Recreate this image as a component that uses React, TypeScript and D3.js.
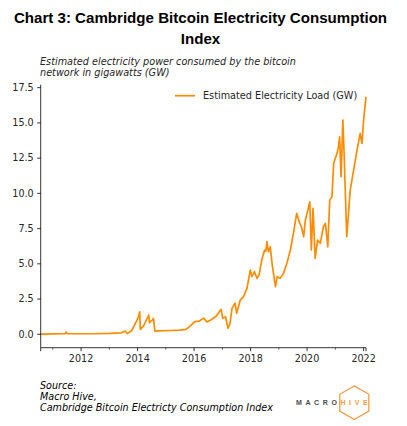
import React from "react";
import * as d3 from "d3";

const dates = [
  "2010-07-28","2011-01-15","2011-06-10","2011-06-22","2011-07-05","2012-06-01","2013-01-01","2013-06-01",
  "2013-07-25","2013-08-20","2013-10-15","2013-12-05","2014-01-10","2014-01-28","2014-02-05","2014-03-20",
  "2014-05-25","2014-06-03","2014-07-10","2014-07-25","2014-08-12","2014-10-01","2015-03-01","2015-07-01",
  "2015-09-20","2015-11-15","2016-01-10","2016-03-10","2016-05-05","2016-06-15","2016-08-15","2016-10-15",
  "2016-12-15","2017-01-05","2017-02-10","2017-03-15","2017-04-10","2017-05-05","2017-06-15","2017-07-05",
  "2017-08-20","2017-10-01","2017-11-15","2017-12-28","2018-01-18","2018-02-20","2018-03-25","2018-04-20",
  "2018-05-25","2018-07-01","2018-07-18","2018-07-30","2018-08-20","2018-09-12","2018-10-05","2018-11-18","2018-12-10",
  "2019-01-18","2019-03-03","2019-04-15","2019-05-30","2019-07-08","2019-08-20","2019-09-10","2019-09-20","2019-10-20",
  "2019-11-18","2019-12-10","2020-01-01","2020-02-05","2020-02-25","2020-03-18","2020-04-15","2020-05-15",
  "2020-06-20","2020-07-30","2020-08-25","2020-09-25","2020-10-20","2020-11-18","2020-12-10","2021-01-22",
  "2021-02-10","2021-02-25","2021-03-15","2021-04-08","2021-04-25","2021-05-28","2021-07-12","2021-08-25","2021-10-08",
  "2021-11-18","2021-12-10","2022-01-05","2022-02-01",
];

const loadGW = [
  0.02,0.03,0.05,0.16,0.05,0.04,0.06,0.1,
  0.23,0.05,0.25,0.8,1.2,1.6,0.35,0.6,
  1.37,0.83,1.0,1.13,0.23,0.25,0.27,0.3,
  0.35,0.6,0.9,0.94,1.15,0.87,1.05,1.3,
  1.77,1.13,1.25,0.43,0.78,1.84,2.2,1.49,
  2.43,2.67,3.26,4.56,4.09,4.44,3.97,4.2,
  5.27,5.98,5.9,6.57,5.86,6.21,5.04,3.38,4.09,
  3.97,4.33,5.04,5.98,7.16,8.58,8.2,7.99,7.63,
  6.92,8.1,8.58,9.4,5.98,8.94,5.39,6.69,
  6.45,7.63,7.87,6.21,9.52,9.76,12.13,12.84,
  13.3,14.01,11.18,15.2,12.6,6.92,10.23,11.65,13.07,
  14.26,13.55,15.43,16.85,
];

const yTicks = [0, 2.5, 5, 7.5, 10, 12.5, 15, 17.5];
const yLimits = [-0.95, 17.71];
const majorYears = [2012, 2014, 2016, 2018, 2020, 2022];
const minorYears = [2011, 2013, 2015, 2017, 2019, 2021];

const titleLines = ["Chart 3: Cambridge Bitcoin Electricity Consumption", "Index"];
const subtitleLines = ["Estimated electricity power consumed by the bitcoin", "network in gigawatts (GW)"];
const legendLabel = "Estimated Electricity Load (GW)";
const sourceLines = ["Source:", "Macro Hive,", "Cambridge Bitcoin Electricty Consumption Index"];

const W = 407;
const H = 426;
const M = { left: 40.7, right: 366, top: 84.7, bottom: 347.7 };
const ORANGE = "#ff8c00";
const TXT = "#262626";
const FONT = "'DejaVu Sans', sans-serif";

export default function App() {
  const parse = d3.timeParse("%Y-%m-%d");
  const data = dates.map((d, i) => ({ date: parse(d) as Date, value: loadGW[i] }));

  const x = d3
    .scaleTime()
    .domain(d3.extent(data, (d) => d.date) as [Date, Date])
    .range([M.left, M.right]);
  const y = d3.scaleLinear().domain(yLimits).range([M.bottom, M.top]);

  const line = d3
    .line<{ date: Date; value: number }>()
    .x((d) => x(d.date))
    .y((d) => y(d.value));

  const yr = (v: number) => new Date(v, 0, 1);
  const fmt = d3.format(".1f");

  const hx = 354.3, hy = 402.7, hr = 16.8;
  const hex = d3.range(6).map((k) => {
    const a = (Math.PI / 3) * k - Math.PI / 2;
    return [hx + hr * Math.cos(a), hy + hr * Math.sin(a)];
  });

  return (
    <svg
      width={W}
      height={H}
      style={{ position: "absolute", left: 0, top: 0, background: "#fff" }}
    >
      <rect width={W} height={H} fill="#fff" />
      {titleLines.map((t, i) => (
        <text
          key={t}
          x={200.5}
          y={22.5 + i * 21.5}
          textAnchor="middle"
          fontFamily="'Liberation Sans', Arial, sans-serif"
          fontWeight="bold"
          fontSize={15.1}
          fill="#000"
        >
          {t}
        </text>
      ))}
      {subtitleLines.map((t, i) => (
        <text
          key={t}
          x={40}
          y={65 + i * 11}
          fontFamily={FONT}
          fontStyle="italic"
          fontSize={9.7}
          fill={TXT}
        >
          {t}
        </text>
      ))}

      <path d={line(data) || ""} fill="none" stroke={ORANGE} strokeWidth={1.7} strokeLinejoin="round" />

      <line x1={M.left} x2={M.left} y1={M.top} y2={M.bottom} stroke="#000" strokeWidth={0.8} />
      <line x1={M.left} x2={M.right} y1={M.bottom} y2={M.bottom} stroke="#000" strokeWidth={0.8} />
      {yTicks.map((t) => (
        <g key={t}>
          <line x1={M.left - 3.5} x2={M.left} y1={y(t)} y2={y(t)} stroke="#000" strokeWidth={0.8} />
          <text
            x={M.left - 7}
            y={y(t)}
            dy="0.35em"
            textAnchor="end"
            fontFamily={FONT}
            fontSize={9.6}
            fill={TXT}
          >
            {fmt(t)}
          </text>
        </g>
      ))}
      {majorYears.map((t) => (
        <g key={t}>
          <line x1={x(yr(t))} x2={x(yr(t))} y1={M.bottom} y2={M.bottom + 3.5} stroke="#000" strokeWidth={0.8} />
          <text
            x={x(yr(t))}
            y={M.bottom + 14}
            textAnchor="middle"
            fontFamily={FONT}
            fontSize={9.6}
            fill={TXT}
          >
            {t}
          </text>
        </g>
      ))}
      {minorYears.map((t) => (
        <line key={t} x1={x(yr(t))} x2={x(yr(t))} y1={M.bottom} y2={M.bottom + 2} stroke="#000" strokeWidth={0.6} />
      ))}
      {x.range().map((px, i) => (
        <line key={"e" + i} x1={px} x2={px} y1={M.bottom} y2={M.bottom + 3.5} stroke="#000" strokeWidth={0.8} />
      ))}

      <line x1={175} x2={195} y1={95.7} y2={95.7} stroke={ORANGE} strokeWidth={1.7} />
      <text x={203} y={99.2} fontFamily={FONT} fontSize={9.7} fill={TXT}>
        {legendLabel}
      </text>

      {sourceLines.map((t, i) => (
        <text
          key={t}
          x={40}
          y={388.5 + i * 11.3}
          fontFamily={FONT}
          fontStyle="italic"
          fontSize={9.6}
          fill="#000"
        >
          {t}
        </text>
      ))}

      <polygon
        points={hex.map((p) => p.join(",")).join(" ")}
        fill="none"
        stroke="#f59b42"
        strokeWidth={1.3}
      />
      <text
        x={296}
        y={405.3}
        fontFamily="'Liberation Sans', Arial, sans-serif"
        fontWeight="bold"
        fontSize={7}
        letterSpacing={3.6}
      >
        <tspan fill="#4a4a4a">MACRO</tspan>
        <tspan fill="#f59b42">HIVE</tspan>
      </text>
    </svg>
  );
}
